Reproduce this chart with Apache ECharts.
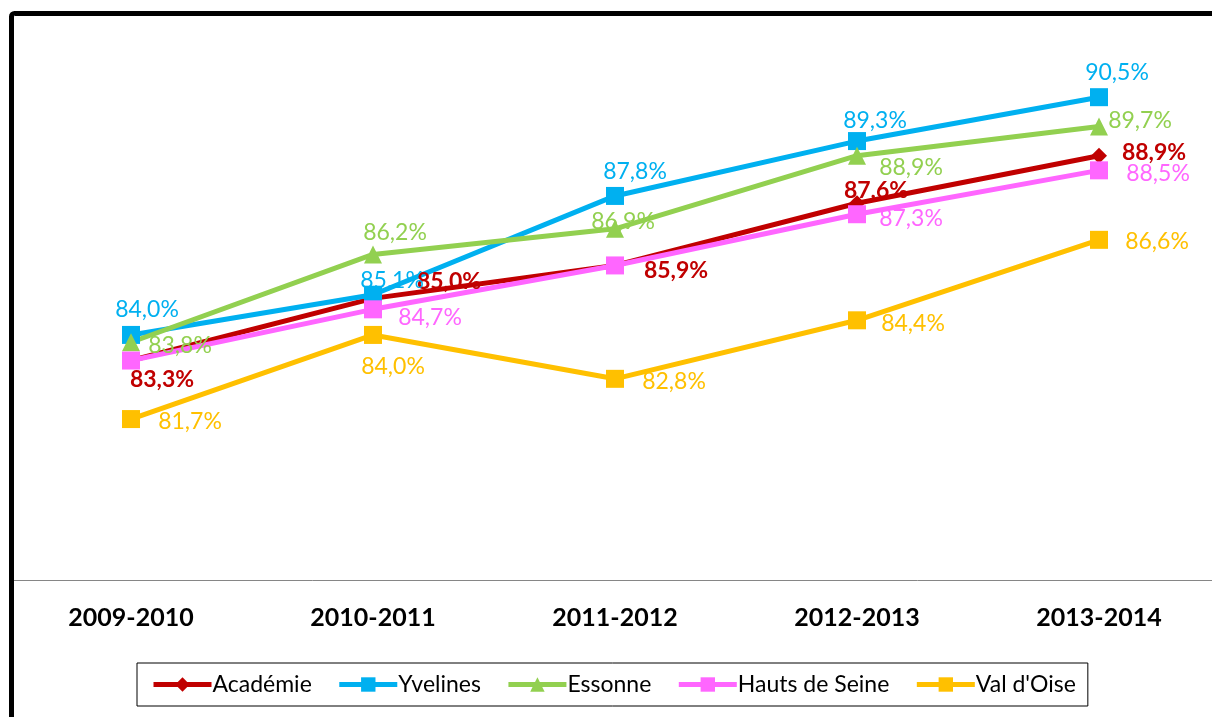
<!DOCTYPE html>
<html>
<head>
<meta charset="utf-8">
<script src="https://cdn.jsdelivr.net/npm/echarts@6/dist/echarts.min.js"></script>
<style>
  html, body { margin: 0; padding: 0; background: #fff; overflow: hidden; }
  #main { width: 1220px; height: 717px; }
</style>
</head>
<body>
<div id="main"></div>
<script>
var categories = ['2009-2010', '2010-2011', '2011-2012', '2012-2013', '2013-2014'];
var academie = [83.3, 85.0, 85.9, 87.6, 88.9];
var yvelines = [84.0, 85.1, 87.8, 89.3, 90.5];
var essonne = [83.8, 86.2, 86.9, 88.9, 89.7];
var hautsDeSeine = [83.3, 84.7, 85.9, 87.3, 88.5];
var valDOise = [81.7, 84.0, 82.8, 84.4, 86.6];

// label placement (offset from the point), per series
var offAcademie = [[31, 19], [76, -17], [61, 5], [19, -13], [55, -3]];
var offYvelines = [[16, -25], [19, -14], [20, -24], [18, -20], [18, -25]];
var offEssonne = [[49, 3], [22, -22], [8, -7], [54, 12], [41, -6]];
var offHauts = [[0, 0], [57, 8], [0, 0], [54, 4], [59, 3]];
var showHauts = [false, true, false, true, true];
var offVal = [[59, 3], [20, 32], [59, 3], [56, 3], [58, 2]];

function fmt(p) {
  return p.value.toFixed(1).replace('.', ',') + '%';
}

function makeSeries(name, values, offsets, color, symbol, size, bold, shows) {
  return {
    name: name,
    type: 'line',
    data: values.map(function (v, i) {
      return {
        value: v,
        label: { offset: offsets[i], show: shows ? shows[i] : true }
      };
    }),
    symbol: symbol,
    symbolSize: size,
    lineStyle: { color: color, width: 5 },
    itemStyle: { color: color },
    label: {
      show: true,
      position: 'inside',
      formatter: fmt,
      color: color,
      fontFamily: 'Lato',
      fontSize: 23,
      fontWeight: bold ? 'bold' : 'normal'
    },
    emphasis: { disabled: true }
  };
}

var myChart = echarts.init(document.getElementById('main'));
myChart.setOption({
  animation: false,
  textStyle: { fontFamily: 'Lato' },
  graphic: [{
    type: 'rect',
    shape: { x: 11.5, y: 13.5, width: 1400, height: 900, r: 3 },
    style: { fill: 'none', stroke: '#000', lineWidth: 5 },
    z: 100
  }],
  grid: { left: 10, right: 0, top: 35, bottom: 137 },
  xAxis: {
    type: 'category',
    data: categories,
    axisLine: { lineStyle: { color: '#868686', width: 1 } },
    axisTick: { show: false },
    axisLabel: {
      color: '#000',
      fontWeight: 'bold',
      fontSize: 25,
      fontFamily: 'Lato',
      margin: 25
    }
  },
  yAxis: {
    type: 'value',
    min: 77.3,
    max: 92.2,
    show: false,
    splitLine: { show: false }
  },
  legend: {
    left: 137,
    top: 663,
    padding: [10, 12, 10, 14],
    borderColor: '#000',
    borderWidth: 1,
    itemWidth: 58,
    itemHeight: 18,
    itemGap: 25,
    lineStyle: { width: 5 },
    textStyle: { fontFamily: 'Lato', fontSize: 23, color: '#000', padding: [0, 0, 0, -4] },
    data: ['Académie', 'Yvelines', 'Essonne', 'Hauts de Seine', "Val d'Oise"]
  },
  series: [
    makeSeries('Académie', academie, offAcademie, '#C00000', 'diamond', 16, true),
    makeSeries('Yvelines', yvelines, offYvelines, '#00B0F0', 'rect', 18, false),
    makeSeries('Essonne', essonne, offEssonne, '#92D050', 'triangle', 18, false),
    makeSeries('Hauts de Seine', hautsDeSeine, offHauts, '#FF66FF', 'rect', 18, false, showHauts),
    makeSeries("Val d'Oise", valDOise, offVal, '#FFC000', 'rect', 18, false)
  ]
});
</script>
</body>
</html>
